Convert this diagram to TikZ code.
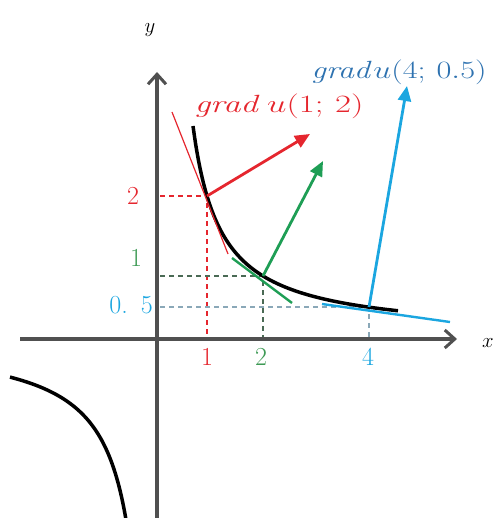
\documentclass[tikz,border=0pt]{standalone}
\usetikzlibrary{arrows.meta}
\definecolor{cred}{HTML}{E5262E}
\definecolor{cgreen}{HTML}{1E9E55}
\definecolor{cgreentxt}{HTML}{3E9A55}
\definecolor{cblue}{HTML}{1BA6E0}
\definecolor{cbluetxt}{HTML}{2E72B0}
\definecolor{caxis}{HTML}{505050}
\definecolor{cgguide}{HTML}{4A6A55}
\definecolor{cbguide}{HTML}{8AA8B8}
\tikzset{
  axis/.style={caxis, line width=3.5pt, -{Straight Barb[length=10pt,width=18pt,line width=3pt]}},
  curve/.style={black, line width=3.5pt},
  vec/.style={line width=2.8pt, -{Triangle[length=15pt,width=13pt]}},
  tang/.style={line width=2.4pt},
  guide/.style={line width=1.2pt, dash pattern=on 5pt off 4pt},
  lbl/.style={font=\fontsize{26}{26}\selectfont, inner sep=0pt},
  glbl/.style={font=\fontsize{26}{26}\selectfont, inner sep=0pt}
}
\begin{document}
\begin{tikzpicture}[x=1pt,y=-1pt]
\useasboundingbox (0,0) rectangle (502,518);
% axes
\coordinate (ybot) at (157,518);
\coordinate (ytop) at (157,72);
\coordinate (xl) at (20,339);
\coordinate (xr) at (457,339);
\draw[axis] (ybot) -- (ytop);
\draw[axis] (xl) -- (xr);
\node[lbl, font=\fontsize{21}{21}\selectfont] (ylab) at (150,30) {$y$};
\node[lbl, font=\fontsize{21}{21}\selectfont] (xlab) at (488,343) {$x$};
% points
\coordinate (P1) at (207,196);
\coordinate (P2) at (263,276);
\coordinate (P4) at (369,307);
% guide lines
\draw[guide, cred] (160,196) -- (P1) -- (207,337);
\draw[guide, cgguide] (160,276) -- (P2) -- (263,337);
\draw[guide, cbguide] (160,307) -- (P4) -- (369,337);
% hyperbola branches
\draw[curve] plot[domain=36:241, samples=80, smooth] ({157+\x},{339-(5880/(\x-8)+3)});
\draw[curve] plot[domain=-147:-31, samples=60, smooth] ({157+\x},{339+5600/(-\x)});
% tangents
\coordinate (r1) at (172,112);
\coordinate (r2) at (228,254);
\draw[cred, line width=1.2pt] (r1) -- (r2);
\coordinate (g1) at (232,258);
\coordinate (g2) at (292,303);
\draw[tang, cgreen] (g1) -- (g2);
\coordinate (b1) at (322,304);
\coordinate (b2) at (450,322);
\draw[tang, cblue] (b1) -- (b2);
% gradient vectors
\coordinate (R) at (310,134);
\coordinate (G) at (323,161);
\coordinate (B) at (407,86);
\draw[vec, cred] (P1) -- (R);
\draw[vec, cgreen] (P2) -- (G);
\draw[vec, cblue] (P4) -- (B);
% labels
\node[lbl, text=cred] (t2) at (133,196) {2};
\node[lbl, text=cgreentxt] (t1) at (136,258) {1};
\node[lbl, text=cblue, anchor=east] (t05) at (153,305) {0.\,\,\,5};
\node[lbl, text=cred] (x1) at (207,357) {1};
\node[lbl, text=cgreentxt] (x2) at (261,357) {2};
\node[lbl, text=cblue] (x4) at (368,357) {4};
\node[glbl, text=cred] (gr) at (279,106) {\scalebox{1.4}[1]{$\mathit{grad}\,u(1;\,2)$}};
\node[glbl, text=cbluetxt] (gb) at (399,72) {\scalebox{1.3}[1]{$\mathit{grad}u(4;\,0.5)$}};
\end{tikzpicture}
\end{document}
